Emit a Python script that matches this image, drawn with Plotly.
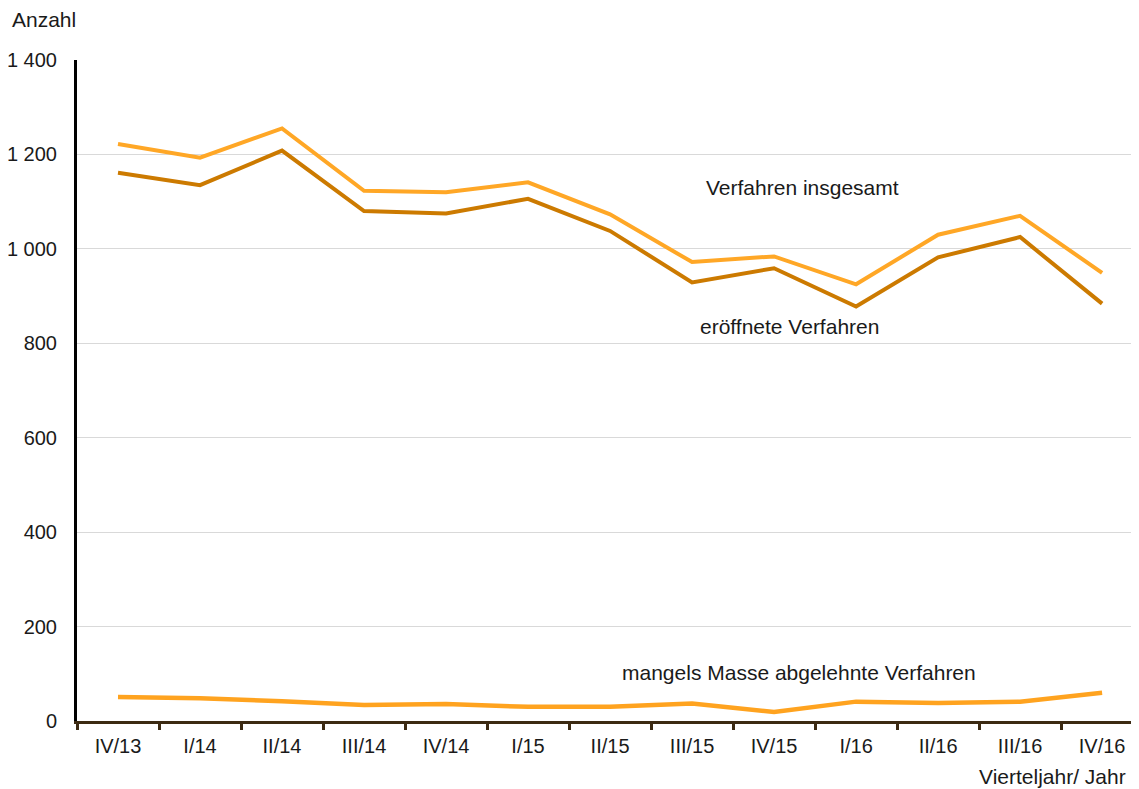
import plotly.graph_objects as go

quarters = ["IV/13", "I/14", "II/14", "III/14", "IV/14", "I/15", "II/15",
            "III/15", "IV/15", "I/16", "II/16", "III/16", "IV/16"]
insgesamt = [1222, 1193, 1255, 1123, 1120, 1141, 1073, 972, 984, 925, 1030, 1070, 949]
eroeffnete = [1161, 1135, 1208, 1080, 1075, 1106, 1038, 929, 959, 878, 982, 1025, 884]
mangels_masse = [51, 48, 42, 34, 36, 30, 30, 37, 19, 41, 38, 41, 60]

C_LIGHT = "#FFA726"
C_DARK = "#CC7A00"
C_MASSE = "#FFA31F"
FONT = "Liberation Sans, Arial, sans-serif"

# page body has an 8px default margin; figure is sized so it ends at the window edge
OFF = 8
W, H = 1139 - OFF, 789 - OFF
L, T, R, B = 77 - OFF, 60 - OFF, 0, 68

fig = go.Figure()
fig.add_trace(go.Scatter(x=quarters, y=mangels_masse, mode="lines",
                         line=dict(color=C_MASSE, width=4.5), name="mangels Masse abgelehnte Verfahren"))
fig.add_trace(go.Scatter(x=quarters, y=eroeffnete, mode="lines",
                         line=dict(color=C_DARK, width=4), name="eröffnete Verfahren"))
fig.add_trace(go.Scatter(x=quarters, y=insgesamt, mode="lines",
                         line=dict(color=C_LIGHT, width=4), name="Verfahren insgesamt"))

fig.update_layout(
    width=W, height=H,
    margin=dict(l=L, r=R, t=T, b=B, pad=0),
    paper_bgcolor="white", plot_bgcolor="white",
    showlegend=False,
    separators=", ",
    font=dict(family=FONT, size=20, color="#1a1a1a"),
)
fig.update_xaxes(
    type="category", range=[-0.5, 12.45],
    showline=True, linecolor="#3c2a12", linewidth=3,
    ticks="outside", tickson="boundaries", ticklen=6, tickwidth=3, tickcolor="#3c2a12",
    showgrid=False, zeroline=False, ticklabelstandoff=5,
    tickfont=dict(family=FONT, size=20, color="#1a1a1a"),
)
fig.update_yaxes(
    range=[0, 1400], tickvals=[0, 200, 400, 600, 800, 1000, 1200, 1400],
    tickformat=",d",
    showline=True, linecolor="black", linewidth=3,
    showgrid=True, gridcolor="#d9d9d9", gridwidth=1,
    zeroline=False, ticks="", ticklabelstandoff=13,
    tickfont=dict(family=FONT, size=20, color="#1a1a1a"),
)

# annotation positions in window pixels
annots = [
    ("Anzahl", 10, 19, "left"),
    ("Vierteljahr/ Jahr", 1128, 776, "right"),
    ("Verfahren insgesamt", 802, 187, "center"),
    ("eröffnete Verfahren", 789, 327, "center"),
    ("mangels Masse abgelehnte Verfahren", 799, 672, "center"),
]
pw = W - L - R
ph = H - T - B
for text, wx, wy, anchor in annots:
    fx = wx - OFF
    fy = wy - OFF
    fig.add_annotation(text=text, x=(fx - L) / pw, y=1 - (fy - T) / ph,
                       xref="paper", yref="paper", xanchor=anchor, yanchor="middle",
                       showarrow=False, font=dict(family=FONT, size=21, color="#1a1a1a"))

fig.write_html("out.html")
